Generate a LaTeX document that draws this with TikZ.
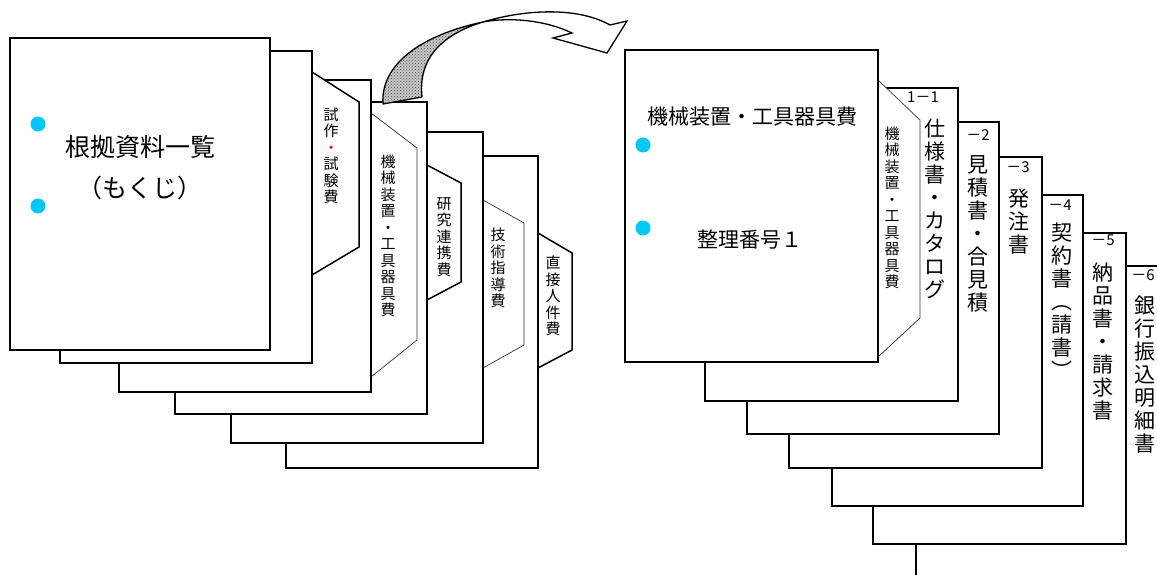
\documentclass[tikz,border=0pt]{standalone}
\usepackage{fontspec}
\usetikzlibrary{patterns}
\newfontfamily\jp{Noto Sans CJK JP}
\definecolor{dotc}{RGB}{0,200,250}
\begin{document}
\begin{tikzpicture}[x=1pt,y=-1pt,
 page/.style={draw=black, fill=white, line width=1.5pt},
 tabthick/.style={draw=black, fill=white, line width=1.5pt},
 tabthin/.style={draw=black!80, fill=white, line width=0.7pt},
 dot/.style={circle, fill=dotc, minimum size=15pt, inner sep=0pt},
 vtab/.style={align=center, inner sep=0pt, font=\jp\fontsize{15}{16.5}\selectfont},
 vbig/.style={align=center, inner sep=0pt, font=\jp\fontsize{21}{23}\selectfont},
 lbl/.style={inner sep=0pt, font=\jp\fontsize{15}{16}\selectfont},
 title/.style={inner sep=0pt, font=\jp\fontsize{25}{30}\selectfont},
 head/.style={inner sep=0pt, font=\jp\fontsize{21}{25}\selectfont},
]
\useasboundingbox (0,0) rectangle (1157,575);
\clip (0,0) rectangle (1157,575);
% ---------------- left stack (back to front) ----------------
\draw[tabthick] (538,233) -- (572,253) -- (572,350) -- (538,368) -- cycle;
\draw[page] (286,156) rectangle (538,468);
\draw[tabthin] (483,200) -- (524,223) -- (524,345) -- (483,368) -- cycle;
\draw[page] (231,132) rectangle (483,443);
\draw[tabthick] (427,165) -- (461,183) -- (461,282) -- (427,300) -- cycle;
\draw[page] (175,102) rectangle (427,414);
\draw[tabthin] (371,113) -- (417,148) -- (417,340) -- (371,377) -- cycle;
\draw[page] (119,80) rectangle (371,392);
\draw[tabthick] (312,72) -- (359,102) -- (359,247) -- (312,275) -- cycle;
\draw[page] (60,51) rectangle (312,363);
\draw[page] (10,38) rectangle (270,350);
% curved arrow
\fill[black!22]
  (383,104) .. controls (380,60) and (430,33) .. (483,22)
  .. controls (440,35) and (418,60) .. (422,97) -- cycle;
\draw[line width=1.3pt, pattern=crosshatch dots, pattern color=black!70, line join=round]
  (383,104) .. controls (380,60) and (430,33) .. (483,22)
  .. controls (440,35) and (418,60) .. (422,97) -- cycle;
\draw[line width=1.3pt, fill=white, line join=miter]
  (483,22) .. controls (530,8) and (580,8) .. (610,25)
  -- (627,21) -- (607,53) -- (553,38) -- (572,33)
  .. controls (545,20) and (510,17) .. (483,22) -- cycle;
% ---------------- right stack (back to front) ----------------
\draw[page] (916,266) rectangle (1180,600);
\draw[page] (873,233) rectangle (1126,544);
\draw[page] (832,195) rectangle (1083,506);
\draw[page] (789,157) rectangle (1042,468);
\draw[page] (747,122) rectangle (999,434);
\draw[page] (705,88) rectangle (958,401);
\draw[tabthin] (878,80) -- (920,120) -- (920,318) -- (878,357) -- cycle;
\draw[page] (625,50) rectangle (878,362);
% ---------------- texts ----------------
\node[dot] (d1) at (38,124) {};
\node[dot] (d2) at (38,206) {};
\node[title] (t1) at (140,147) {根拠資料一覧};
\node[title] (t2) at (140,188) {（もくじ）};
\node[vtab] (v1) at (331,156) {試\\作\\{\color{red}・}\\試\\験\\費};
\node[vtab] (v2) at (388,236) {機\\械\\装\\置\\・\\工\\具\\器\\具\\費};
\node[vtab] (v3) at (444,237) {研\\究\\連\\携\\費};
\node[vtab] (v4) at (498,268) {技\\術\\指\\導\\費};
\node[vtab] (v5) at (553,296) {直\\接\\人\\件\\費};
\node[dot] (d3) at (643,145) {};
\node[dot] (d4) at (643,228) {};
\node[head] (h1) at (752,117) {機械装置・工具器具費};
\node[head] (h2) at (750,240) {整理番号１};
\node[vtab] (v6) at (892,208) {機\\械\\装\\置\\・\\工\\具\\器\\具\\費};
\node[lbl] (l1) at (923,97) {1－1};
\node[vbig] (b1) at (935,209) {仕\\様\\書\\・\\カ\\タ\\ロ\\グ};
\node[lbl] (l2) at (978,135) {－2};
\node[vbig] (b2) at (978,234) {見\\積\\書\\・\\合\\見\\積};
\node[lbl] (l3) at (1018,167) {－3};
\node[vbig] (b3) at (1019,222) {発\\注\\書};
\node[lbl] (l4) at (1060,205) {－4};
\node[vbig] (b4) at (1062,301) {契\\約\\書\\︵\\請\\書\\︶};
\node[lbl] (l5) at (1103,240) {－5};
\node[vbig] (b5) at (1103,342) {納\\品\\書\\・\\請\\求\\書};
\node[lbl] (l6) at (1143,275) {－6};
\node[vbig] (b6) at (1145,375) {銀\\行\\振\\込\\明\\細\\書};
\end{tikzpicture}
\end{document}
